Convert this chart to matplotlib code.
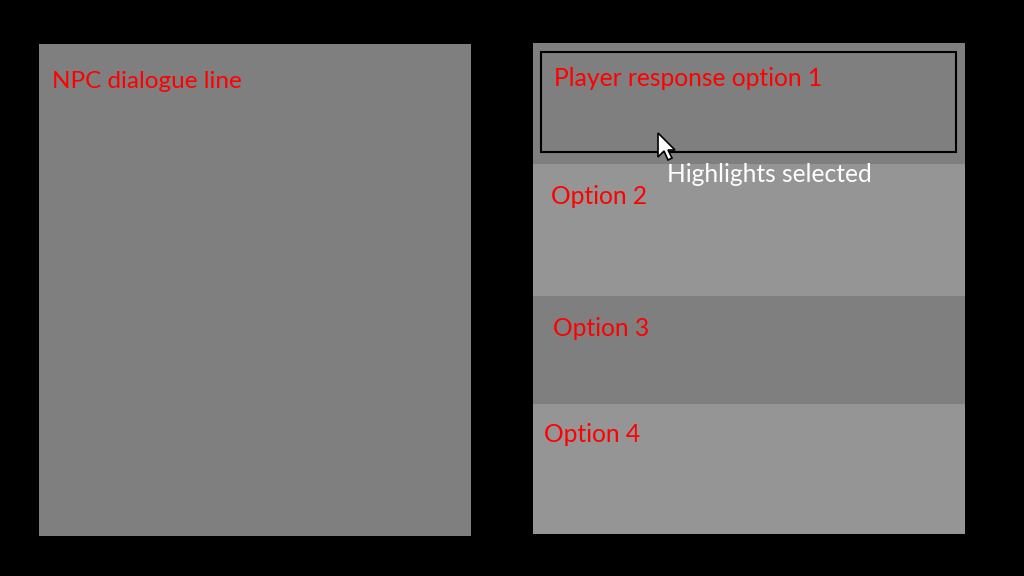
import matplotlib.pyplot as plt
from matplotlib.patches import Rectangle, Polygon

# layout of the mockup, in pixels (origin top-left)
npc_label = "NPC dialogue line"
npc_box = (39, 44, 432, 492)  # x, y, w, h

option_labels = ["Player response option 1", "Option 2", "Option 3", "Option 4"]
option_tops = [43, 164, 296, 404]
option_bottoms = [164, 296, 404, 534]
option_colors = ["#7f7f7f", "#959595", "#7f7f7f", "#959595"]
option_text_x = [554, 551, 553, 544]
option_text_y = [79, 197, 328, 435]
panel_x, panel_w = 533, 432

select_box = (541, 52, 415, 100)
hint_text = "Highlights selected"
hint_pos = (667, 174)

# mouse pointer outline, offsets from the tip
cursor_tip = (658, 133)
cursor_shape = [(0, 0), (0, 24), (6, 18), (10, 27), (14, 25), (10, 17), (17, 17)]

plt.rcParams['font.family'] = ['Lato', 'DejaVu Sans']

fig = plt.figure(figsize=(10.24, 5.76), dpi=100, facecolor='black')
ax = fig.add_axes([0, 0, 1, 1])
ax.set_xlim(0, 1024)
ax.set_ylim(576, 0)
ax.set_facecolor('black')
ax.axis('off')

# left panel
x, y, w, h = npc_box
ax.add_patch(Rectangle((x, y), w, h, facecolor='#7f7f7f', edgecolor='none'))
ax.text(52, 82, npc_label, color='red', fontsize=17.5, va='center', ha='left')

# right panel, one band per option
for lab, top, bot, col, tx, ty in zip(option_labels, option_tops, option_bottoms,
                                      option_colors, option_text_x, option_text_y):
    ax.add_patch(Rectangle((panel_x, top), panel_w, bot - top, facecolor=col, edgecolor='none'))
    ax.text(tx, ty, lab, color='red', fontsize=17.7, va='center', ha='left')

# selection frame
sx, sy, sw, sh = select_box
ax.add_patch(Rectangle((sx, sy), sw, sh, facecolor='none', edgecolor='black', linewidth=1.5))

ax.text(hint_pos[0], hint_pos[1], hint_text, color='white', fontsize=17.7, va='center', ha='left')

# pointer
pts = [(cursor_tip[0] + dx, cursor_tip[1] + dy) for dx, dy in cursor_shape]
ax.add_patch(Polygon(pts, closed=True, facecolor='white', edgecolor='black', linewidth=1.2))

fig.savefig('out.png', dpi=100, facecolor='black')
